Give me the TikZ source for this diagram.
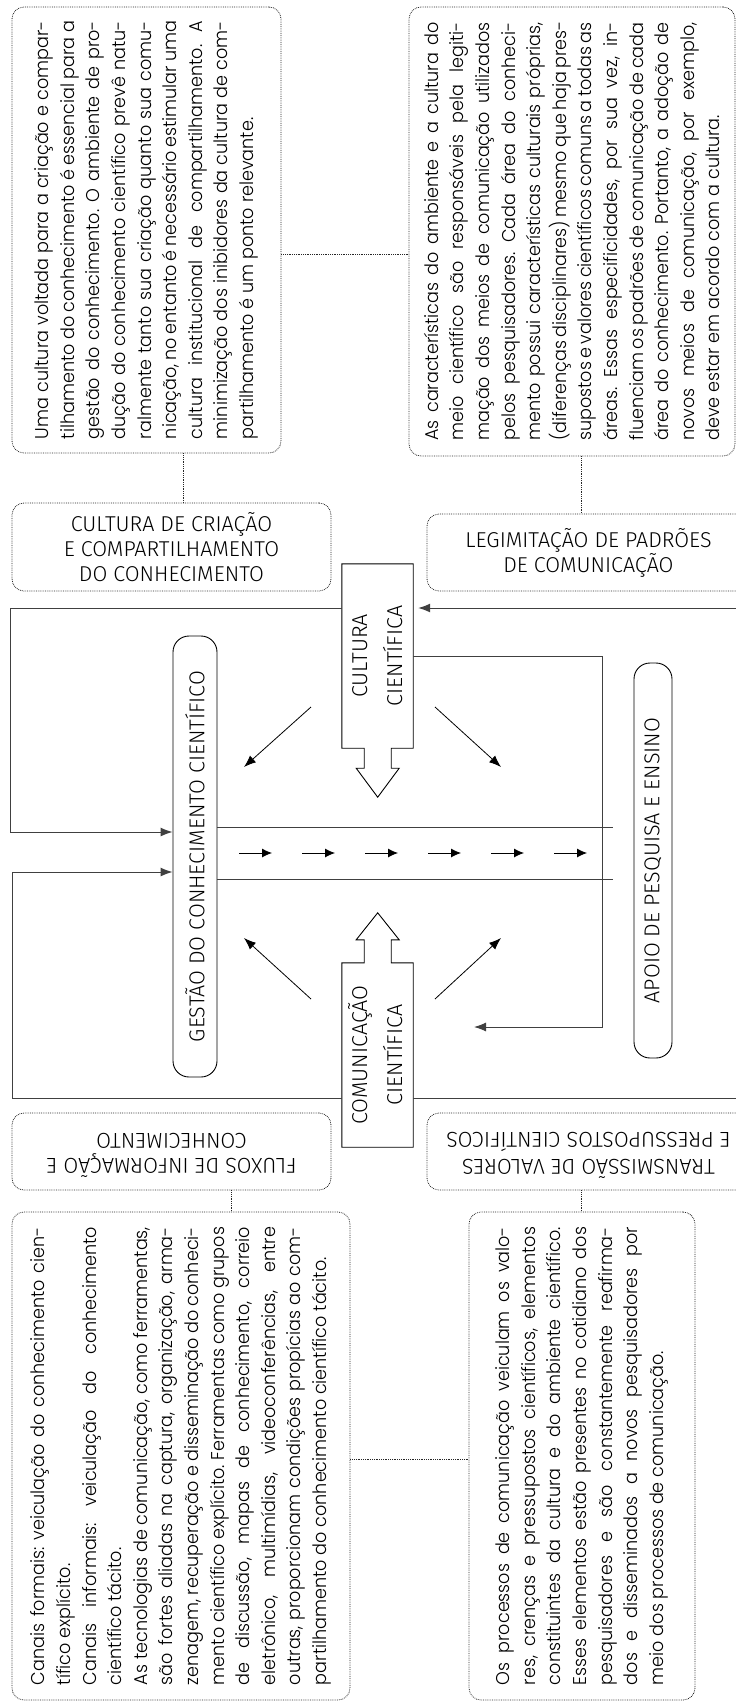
\documentclass[tikz,border=0pt]{standalone}
\usepackage{fontspec}
\usepackage{graphicx}
\usetikzlibrary{arrows.meta}
\IfFontExistsTF{Fira Sans Light}{\newfontfamily\labfont{Fira Sans Light}}{\newfontfamily\labfont{Fira Sans}}
\IfFontExistsTF{Poppins Light}{\newfontfamily\bodyfont{Poppins Light}[FakeStretch=0.95]}{\newfontfamily\bodyfont{Poppins}[FakeStretch=0.95]}
\frenchspacing
\newlength\linelen
\newcommand\jl[1]{\makebox[\linelen][s]{#1}\\}
\newcommand\pl[1]{\makebox[\linelen][l]{#1}\\}
\newcommand\fl[1]{\makebox[\linelen][l]{#1}}
\newcommand\bodyblock[2]{\rotatebox{90}{\parbox{#1}{\frenchspacing\bodyfont\fontsize{18.5}{25.6}\selectfont\setlength\linelen{#1}#2}}}
\newcommand\twolines[2]{\begin{tabular}{@{}c@{}}#1\\#2\end{tabular}}
\begin{document}
\begin{tikzpicture}[x=1pt,y=-1pt,
  txtbox/.style={draw=black!85, densely dotted, line width=0.8pt, rounded corners=12pt, inner sep=0pt},
  labbox/.style={txtbox, font=\labfont\fontsize{21.5}{25}\selectfont, align=center},
  rbox/.style={draw=black, line width=0.9pt, rounded corners=16pt, inner sep=0pt, font=\labfont\fontsize{21.5}{25}\selectfont},
  blkarrow/.style={draw=black, line width=0.9pt},
  frm/.style={draw=black!75, line width=1pt},
  dotc/.style={draw=black!85, densely dotted, line width=0.8pt},
  tipA/.style={-{Latex[length=12pt,width=9pt]}},
  tipS/.style={-{Latex[length=10pt,width=9pt]}},
  thinar/.style={draw=black, line width=0.8pt}]

\useasboundingbox (0,0) rectangle (736,1705);

% ---------- top text boxes ----------
\node[txtbox, minimum width=269pt, minimum height=446pt] (tl) at (146.5,230) {\bodyblock{418pt}{%
\jl{Uma cultura voltada para a criação e compar-}%
\jl{tilhamento do conhecimento é essencial para a}%
\jl{gestão do conhecimento. O ambiente de pro-}%
\jl{dução do conhecimento científico prevê natu-}%
\jl{ralmente tanto sua criação quanto sua comu-}%
\jl{nicação, no entanto é necessário estimular uma}%
\jl{cultura institucional de compartilhamento. A}%
\jl{minimização dos inibidores da cultura de com-}%
\fl{partilhamento é um ponto relevante.}}};

\node[txtbox, minimum width=326pt, minimum height=449pt] (tr) at (572,231.5) {\bodyblock{418pt}{%
\jl{As características do ambiente e a cultura do}%
\jl{meio científico são responsáveis pela legiti-}%
\jl{mação dos meios de comunicação utilizados}%
\jl{pelos pesquisadores. Cada área do conheci-}%
\jl{mento possui características culturais próprias,}%
\jl{(diferenças disciplinares) mesmo que haja pres-}%
\jl{supostos e valores científicos comuns a todas as}%
\jl{áreas. Essas especificidades, por sua vez, in-}%
\jl{fluenciam os padrões de comunicação de cada}%
\jl{área do conhecimento. Portanto, a adoção de}%
\jl{novos meios de comunicação, por exemplo,}%
\fl{deve estar em acordo com a cultura.}}};

% ---------- label boxes ----------
\node[labbox, minimum width=319pt, minimum height=88pt] (ccc) at (171.5,547) {CULTURA DE CRIAÇÃO\\E COMPARTILHAMENTO\\DO CONHECIMENTO};
\node[labbox, minimum width=323pt, minimum height=77pt] (leg) at (588.5,552.5) {LEGIMITAÇÃO DE PADRÕES\\DE COMUNICAÇÃO};
\node[labbox, minimum width=319pt, minimum height=77pt] (fluxos) at (171.5,1151.5) {\rotatebox{180}{\twolines{FLUXOS DE INFORMAÇÃO E}{CONHECIMENTO}}};
\node[labbox, minimum width=323pt, minimum height=77pt] (transm) at (588.5,1151.5) {\rotatebox{180}{\twolines{TRANSMISSÃO DE VALORES}{E PRESSUPOSTOS CIENTÍFICOS}}};

% ---------- bottom text boxes ----------
\node[txtbox, minimum width=338pt, minimum height=488pt] (bl) at (181,1456) {\bodyblock{458pt}{%
\jl{Canais formais: veiculação do conhecimento cien-}%
\pl{tífico explícito.}%
\jl{Canais informais: veiculação do conhecimento}%
\pl{científico tácito.}%
\jl{As tecnologias de comunicação, como ferramentas,}%
\jl{são fortes aliadas na captura, organização, arma-}%
\jl{zenagem, recuperação e disseminação do conheci-}%
\jl{mento científico explícito. Ferramentas como grupos}%
\jl{de discussão, mapas de conhecimento, correio}%
\jl{eletrônico, multimídias, videoconferências, entre}%
\jl{outras, proporcionam condições propícias ao com-}%
\fl{partilhamento do conhecimento científico tácito.}}};

\node[txtbox, minimum width=226pt, minimum height=488pt] (br) at (582,1456) {\bodyblock{458pt}{%
\jl{Os processos de comunicação veiculam os valo-}%
\jl{res, crenças e pressupostos científicos, elementos}%
\jl{constituintes da cultura e do ambiente científico.}%
\jl{Esses elementos estão presentes no cotidiano dos}%
\jl{pesquisadores e são constantemente reafirma-}%
\jl{dos e disseminados a novos pesquisadores por}%
\fl{meio dos processos de comunicação.}}};

% ---------- dotted connectors ----------
\draw[dotc] (tl.east |- 0,254) -- (tr.west |- 0,254);
\draw[dotc] (tl.south -| 183,0) -- (ccc.north -| 183,0);
\draw[dotc] (tr.south -| 581,0) -- (leg.north -| 581,0);
\draw[dotc] (fluxos.south -| 231,0) -- (bl.north -| 231,0);
\draw[dotc] (transm.south -| 581,0) -- (br.north -| 581,0);
\draw[dotc] (bl.east |- 0,1459) -- (br.west |- 0,1459);

% ---------- central rounded boxes ----------
\node[rbox, minimum width=44pt, minimum height=441pt] (gest) at (195,856.5) {\rotatebox{90}{GESTÃO DO CONHECIMENTO CIENTÍFICO}};
\node[rbox, minimum width=38pt, minimum height=395pt] (apoio) at (653,860.5) {\rotatebox{90}{APOIO DE PESQUISA E ENSINO}};

% ---------- block arrows ----------
\node[inner sep=0pt, minimum width=71pt, minimum height=184pt, font=\labfont\fontsize{21.5}{35}\selectfont] (cult) at (377.5,656) {\rotatebox{90}{\twolines{CULTURA}{CIENTÍFICA}}};
\draw[blkarrow] (cult.north west) -- (cult.north east) -- (cult.south east) -- ++(-22,0) -- ++(0,20) -- ++(8,0) -- ++(-21.5,29) -- ++(-21.5,-29) -- ++(8,0) -- ++(0,-20) -- (cult.south west) -- cycle;

\node[inner sep=0pt, minimum width=71pt, minimum height=184pt, font=\labfont\fontsize{21.5}{35}\selectfont] (comm) at (377.5,1055) {\rotatebox{90}{\twolines{COMUNICAÇÃO}{CIENTÍFICA}}};
\draw[blkarrow] (comm.south west) -- (comm.south east) -- (comm.north east) -- ++(-22,0) -- ++(0,-23) -- ++(8,0) -- ++(-21.5,-27) -- ++(-21.5,27) -- ++(8,0) -- ++(0,23) -- (comm.north west) -- cycle;

% ---------- frame ----------
\coordinate (rT) at (745,608);
\coordinate (rB) at (745,1098);
\coordinate (lpend) at (474,1027);
\coordinate (bT) at (613,827);
\coordinate (bB) at (613,879);
\draw[frm, tipA] (cult.west |- 0,608) -| (10,832) -- (gest.west |- 0,832);
\draw[frm, tipA] (comm.west |- rB) -| (12,872) -- (gest.west |- 0,872);
\draw[frm, tipA, shorten >=5pt] (rT) -- (cult.east |- rT);
\draw[frm] (comm.east |- rB) -- (rB);
\draw[frm, tipA] (cult.east |- 0,656) -| (602,1027) -- (lpend);
\draw[frm] (gest.east |- bT) -- (bT);
\draw[frm] (gest.east |- bB) -- (bB);

% ---------- small flow arrows ----------
\foreach \k in {0,...,5}{\draw[thinar, tipS] (239+63*\k,853) -- (272+63*\k,853);}

% ---------- diagonal arrows ----------
\coordinate (d1s) at (311,707); \coordinate (d1e) at (244,767);
\coordinate (d2s) at (435,707); \coordinate (d2e) at (501,767);
\coordinate (d3s) at (311,999); \coordinate (d3e) at (244,938);
\coordinate (d4s) at (435,999); \coordinate (d4e) at (501,938);
\draw[thinar, tipA] (d1s) -- (d1e);
\draw[thinar, tipA] (d2s) -- (d2e);
\draw[thinar, tipA] (d3s) -- (d3e);
\draw[thinar, tipA] (d4s) -- (d4e);
\end{tikzpicture}
\end{document}
